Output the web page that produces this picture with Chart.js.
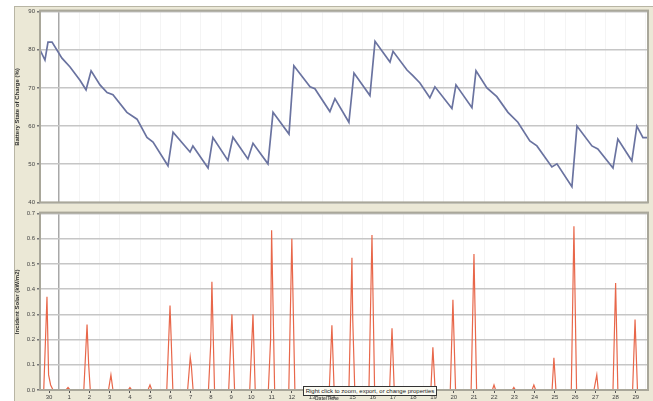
<!DOCTYPE html>
<html>
<head>
<meta charset="utf-8">
<script src="https://cdn.jsdelivr.net/npm/chart.js@4"></script>
<style>
  html, body { margin: 0; padding: 0; background: #ffffff; }
  #panel {
    position: absolute; left: 14px; top: 6px; width: 638px; height: 395px;
    background: #ebe8d6; border-left: 1px solid #b8b5a4; border-top: 1px solid #b8b5a4;
  }
  canvas { position: absolute; left: 14px; }
  #top { top: 6px; }
  #bottom { top: 208px; }
  #hint {
    position: absolute; left: 303px; top: 386px; width: 132px; height: 8px;
    border: 1px solid #333; background: #fbfbf2; font: 6px "Liberation Sans", Arial, sans-serif;
    line-height: 8px; color: #222; text-align: center; white-space: nowrap; overflow: hidden;
  }
  #xtitle {
    position: absolute; left: 315px; top: 395px; font: bold 5px "Liberation Sans", Arial, sans-serif;
    color: #555;
  }
</style>
</head>
<body>
<div id="panel"></div>
<canvas id="top" width="639" height="202"></canvas>
<canvas id="bottom" width="639" height="193"></canvas>
<div id="hint">Right click to zoom, export, or change properties</div>
<div id="xtitle">Date/Time</div>
<script>
// Day labels along the time axis (one per day, noon positions)
const tickLabels = ['30','1','2','3','4','5','6','7','8','9','10','11','12','13','14',
  '15','16','17','18','19','20','21','22','23','24','25','26','27','28','29'];

// Battery state of charge (%), sampled at the turning points of the trace
const socDays = [-0.445, -0.20, -0.05, 0.15, 0.64, 1.04, 1.53, 1.83, 2.08, 2.52, 2.87, 3.16,
  3.85, 4.35, 4.84, 5.14, 5.88, 6.13, 6.97, 7.11, 7.86, 8.10, 8.84, 9.09, 9.83, 10.08, 10.82,
  11.07, 11.86, 12.10, 12.90, 13.14, 13.88, 14.13, 14.82, 15.07, 15.86, 16.11, 16.85, 17.00,
  17.69, 17.98, 18.33, 18.82, 19.07, 19.91, 20.11, 20.90, 21.10, 21.64, 22.13, 22.68, 23.17,
  23.76, 24.11, 24.85, 25.10, 25.84, 26.09, 26.83, 27.12, 27.87, 28.11, 28.80, 29.05, 29.35, 29.60];
const socValues = [80, 77.3, 82, 82, 77.8, 75.5, 72, 69.5, 74.5, 70.8, 68.8, 68.2,
  63.6, 61.8, 57, 55.8, 49.6, 58.4, 53.2, 54.8, 49, 57, 51, 57.1, 51.4, 55.5, 50.1,
  63.6, 57.9, 75.8, 70.3, 69.8, 63.8, 67.2, 61, 73.9, 68, 82.2, 76.8, 79.6,
  74.7, 73.2, 71.3, 67.4, 70.3, 64.6, 70.8, 64.8, 74.5, 70, 67.7, 63.6, 61,
  56.1, 54.8, 49.3, 50.1, 44.1, 60, 54.8, 54, 49, 56.6, 50.9, 60, 57, 57];

// Incident solar, daily peaks with the zero stretches between them
const solarDays = [-0.445, -0.26, -0.10, -0.02, 0.08, 0.2, 0.84, 0.94, 1.04, 1.72, 1.88, 1.96, 2.04,
  2.94, 3.06, 3.16, 3.91, 4.0, 4.09, 4.89, 4.99, 5.08, 5.82, 5.98, 6.03, 6.12, 6.85, 6.98, 7.03, 7.12,
  7.88, 7.99, 8.05, 8.18, 8.88, 9.04, 9.17, 9.92, 10.08, 10.19, 10.84, 10.95, 11.0, 11.15,
  11.85, 12.0, 12.15, 12.91, 12.99, 13.07, 13.85, 13.98, 14.09, 14.82, 14.97, 15.01, 15.11,
  15.81, 15.96, 16.09, 16.83, 16.95, 17.06, 17.89, 17.98, 18.07, 18.87, 18.97, 19.08,
  19.83, 19.96, 20.09, 20.86, 21.0, 21.13, 21.91, 21.99, 22.07, 22.89, 22.97, 23.05,
  23.87, 23.96, 24.05, 24.86, 24.95, 25.05, 25.81, 25.94, 26.07, 26.93, 27.0, 27.07, 27.14,
  27.87, 28.0, 28.11, 28.84, 28.96, 29.08, 29.6];
const solarValues = [0, 0, 0.37, 0.06, 0.02, 0, 0, 0.01, 0, 0, 0.26, 0.1, 0,
  0, 0.06, 0, 0, 0.01, 0, 0, 0.02, 0, 0, 0.335, 0.22, 0, 0, 0.13, 0.1, 0,
  0, 0.18, 0.43, 0, 0, 0.30, 0, 0, 0.30, 0, 0, 0.2, 0.634, 0,
  0, 0.60, 0, 0, 0.01, 0, 0, 0.257, 0, 0, 0.525, 0.28, 0,
  0, 0.615, 0, 0, 0.245, 0, 0, 0.01, 0, 0, 0.17, 0,
  0, 0.358, 0, 0, 0.54, 0, 0, 0.02, 0, 0, 0.01, 0,
  0, 0.02, 0, 0, 0.128, 0, 0, 0.65, 0, 0, 0.03, 0.06, 0,
  0, 0.425, 0, 0, 0.28, 0, 0];

const X_MIN = -0.445, X_MAX = 29.6;
const FONT = { family: 'Liberation Sans, Arial, sans-serif', size: 6 };

// White plot background and grey frame around each plot area
const plotFrame = {
  id: 'plotFrame',
  beforeDraw(chart) {
    const { ctx, chartArea: a } = chart;
    ctx.save();
    ctx.fillStyle = '#ffffff';
    ctx.fillRect(a.left, a.top, a.right - a.left, a.bottom - a.top);
    ctx.restore();
  },
  afterDraw(chart) {
    const { ctx, chartArea: a } = chart;
    ctx.save();
    ctx.strokeStyle = '#a9a79a';
    ctx.lineWidth = 2;
    ctx.strokeRect(a.left, a.top - 1, a.right - a.left, a.bottom - a.top + 1);
    ctx.restore();
  }
};

// Time axis: labels at noon, grid at midnight (month boundary darker)
function timeAxis(showLabels, height) {
  return {
    type: 'linear', min: X_MIN, max: X_MAX,
    afterBuildTicks(scale) {
      const t = [];
      for (let v = 0; v <= 29.5; v += 0.5) t.push({ value: v });
      scale.ticks = t;
    },
    afterFit(scale) { scale.height = height; },
    ticks: {
      display: showLabels, autoSkip: false, maxRotation: 0, padding: 1,
      font: FONT, color: '#444',
      callback: (v) => Number.isInteger(v) ? tickLabels[v] : ''
    },
    grid: {
      drawTicks: showLabels, tickLength: 3,
      color: (c) => {
        const v = c.tick ? c.tick.value : null;
        if (v === 0.5) return '#a8a8a8';
        return (v !== null && !Number.isInteger(v)) ? '#f4f4f4' : 'rgba(0,0,0,0)';
      },
      tickColor: (c) => (c.tick && Number.isInteger(c.tick.value)) ? '#555' : 'rgba(0,0,0,0)',
      lineWidth: (c) => (c.tick && c.tick.value === 0.5) ? 1.5 : 1
    },
    border: { display: false }
  };
}

function valueAxis(min, max, step, title, fmt) {
  return {
    min, max,
    afterFit(scale) { scale.width = 26; },
    ticks: { stepSize: step, font: FONT, color: '#444', padding: 2, callback: fmt },
    grid: { color: '#c6c6c6', lineWidth: 1.5, tickLength: 3, tickColor: '#777' },
    border: { display: false },
    title: { display: true, text: title, font: { family: FONT.family, size: 6, weight: 'bold' },
             color: '#333', padding: { top: 0, bottom: 2 } }
  };
}

new Chart(document.getElementById('top'), {
  type: 'line',
  data: {
    datasets: [{
      data: socDays.map((d, i) => ({ x: d, y: socValues[i] })),
      borderColor: '#6a73a0', borderWidth: 1.7, pointRadius: 0, tension: 0
    }]
  },
  options: {
    responsive: false, animation: false, devicePixelRatio: 1,
    layout: { padding: { top: 4, right: 5, left: 0, bottom: 0 } },
    plugins: { legend: { display: false }, tooltip: { enabled: false } },
    scales: {
      x: timeAxis(false, 3),
      y: valueAxis(40, 90, 10, 'Battery State of Charge (%)', (v) => v)
    }
  },
  plugins: [plotFrame]
});

new Chart(document.getElementById('bottom'), {
  type: 'line',
  data: {
    datasets: [{
      data: solarDays.map((d, i) => ({ x: d, y: solarValues[i] })),
      borderColor: '#e8674a', borderWidth: 1.2, pointRadius: 0, tension: 0
    }]
  },
  options: {
    responsive: false, animation: false, devicePixelRatio: 1,
    layout: { padding: { top: 2, right: 5, left: 0, bottom: 0 } },
    plugins: { legend: { display: false }, tooltip: { enabled: false } },
    scales: {
      x: Object.assign(timeAxis(true, 11), { border: { display: true, color: '#6b3b2c', width: 2 } }),
      y: valueAxis(0, 0.7, 0.1, 'Incident Solar (kW/m2)', (v) => v.toFixed(1))
    }
  },
  plugins: [plotFrame]
});
</script>
</body>
</html>
